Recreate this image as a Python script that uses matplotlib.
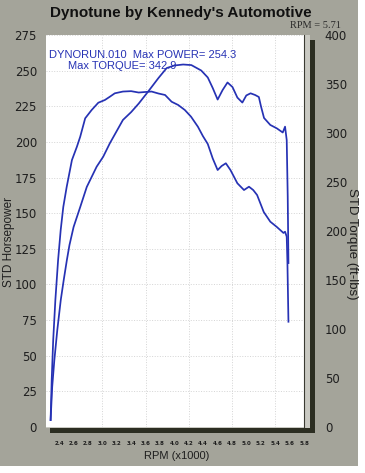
import matplotlib.pyplot as plt
from matplotlib.patches import Rectangle

# values
rpm_power = [2.282, 2.304, 2.334, 2.375, 2.423, 2.464, 2.508, 2.544, 2.601, 2.693,
             2.784, 2.921, 3.012, 3.104, 3.195, 3.286, 3.400, 3.505, 3.642, 3.779,
             3.893, 3.999, 4.122, 4.236, 4.373, 4.464, 4.533, 4.601, 4.670, 4.738,
             4.807, 4.875, 4.944, 4.999, 5.058, 5.122, 5.173, 5.204, 5.245, 5.332,
             5.423, 5.505, 5.537, 5.560, 5.574, 5.584]
power_hp = [4.9, 28.1, 47.0, 68.1, 89.1, 103.1, 117.2, 127.7, 140.3, 154.3,
            168.4, 182.6, 189.6, 199.0, 207.2, 215.4, 220.9, 226.9, 235.7, 244.8,
            251.8, 253.6, 254.3, 253.9, 250.1, 245.2, 237.8, 229.7, 236.4, 241.7,
            238.5, 231.1, 227.6, 232.6, 234.1, 232.9, 231.5, 224.7, 216.8, 211.9,
            209.5, 206.6, 210.7, 201.3, 161.6, 115.0]

rpm_torque = [2.282, 2.297, 2.318, 2.348, 2.386, 2.422, 2.458, 2.505, 2.578, 2.647,
              2.693, 2.762, 2.852, 2.944, 3.036, 3.104, 3.173, 3.286, 3.400, 3.505,
              3.588, 3.684, 3.779, 3.871, 3.962, 4.053, 4.145, 4.232, 4.327, 4.396,
              4.464, 4.533, 4.601, 4.656, 4.715, 4.779, 4.875, 4.967, 5.036, 5.095,
              5.149, 5.241, 5.332, 5.423, 5.515, 5.537, 5.560, 5.570, 5.584]
torque_ftlb = [7.1, 48.0, 88.8, 129.6, 170.4, 201.0, 224.5, 244.9, 272.4, 286.0,
               296.2, 315.0, 323.5, 330.9, 333.7, 337.0, 340.5, 342.3, 342.7, 341.3,
               341.8, 342.3, 340.3, 338.8, 331.9, 328.6, 323.5, 316.6, 306.4, 296.9,
               288.8, 274.0, 262.2, 266.3, 269.1, 262.2, 248.7, 241.8, 245.2, 241.8,
               236.7, 219.4, 209.5, 204.1, 198.0, 199.3, 194.2, 167.3, 107.4]

hp_ticks = [0, 25, 50, 75, 100, 125, 150, 175, 200, 225, 250, 275]
tq_ticks = [0, 50, 100, 150, 200, 250, 300, 350, 400]
rpm_ticks = [2.4, 2.6, 2.8, 3.0, 3.2, 3.4, 3.6, 3.8, 4.0, 4.2,
             4.4, 4.6, 4.8, 5.0, 5.2, 5.4, 5.6, 5.8]
rpm_labels = ["2.4", "2.6", "2.8", "3.0", "3.2", "3.4", "3.6", "3.8", "4.0", "4.2",
              "4.4", "4.6", "4.8", "5.0", "5.2", "5.4", "5.6", "5.8"]
rpm_grid = [3.0, 3.6, 4.2, 4.8, 5.4]

W, H = 365, 473


def fx(x):
    return x / W


def fy(y):
    return 1 - y / H


blue = '#2632b4'
ink = '#1e1e1e'

fig = plt.figure(figsize=(W / 100, H / 100), dpi=100, facecolor='white')

# scanned grey page, the plot's drop shadow and frame (behind the axes)
fig.patches.append(Rectangle((0, fy(466)), fx(358), 466 / H, transform=fig.transFigure,
                             facecolor='#a4a49a', edgecolor='none', zorder=-3))
fig.patches.append(Rectangle((fx(50), fy(433)), fx(315 - 50), (433 - 40) / H,
                             transform=fig.transFigure, facecolor='#2c2e22',
                             edgecolor='none', zorder=-2))
fig.patches.append(Rectangle((fx(46), fy(428)), fx(310 - 46), (428 - 35) / H,
                             transform=fig.transFigure, facecolor='#c9c9c2',
                             edgecolor='none', zorder=-1))

ax = fig.add_axes([fx(46), fy(427), fx(304 - 46), (427 - 35) / H])
ax.set_facecolor('white')
ax.set_xlim(2.218, 5.752)
ax.set_ylim(0, 275)
ax.set_yticks(hp_ticks)
ax.set_xticks(rpm_ticks)
ax.set_xticklabels(rpm_labels)
ax.tick_params(axis='y', length=0, pad=6.5, labelsize=8.5, labelcolor=ink)
ax.tick_params(axis='x', length=0, pad=10, labelsize=4, labelcolor=ink)
for lab in ax.get_xticklabels():
    lab.set_fontweight('bold')
ax.grid(axis='y', color='#d4d4d4', linestyle=':', linewidth=0.7)
ax.vlines(rpm_grid, 0, 275, colors='#d4d4d4', linestyles=':', linewidth=0.7)
for s in ['left', 'top', 'bottom']:
    ax.spines[s].set_visible(False)
ax.spines['right'].set_color('#3a3a32')
ax.spines['right'].set_linewidth(0.8)

ax.plot(rpm_power, power_hp, color=blue, linewidth=1.25)

ax2 = ax.twinx()
ax2.set_ylim(0, 400)
ax2.set_yticks(tq_ticks)
ax2.tick_params(axis='y', length=0, pad=15, labelsize=8.5, labelcolor=ink)
for s in ['left', 'top', 'bottom', 'right']:
    ax2.spines[s].set_visible(False)
ax2.plot(rpm_torque, torque_ftlb, color=blue, linewidth=1.25)

fig.text(fx(181), fy(13), "Dynotune by Kennedy's Automotive", ha='center', va='center',
         fontsize=11, fontweight='bold', color='#111111', family='Liberation Sans')
fig.text(fx(290), fy(26), "RPM = 5.71", ha='left', va='center', fontsize=7.5,
         color='#2a2a2a', family='Liberation Serif')
fig.text(fx(49), fy(55), "DYNORUN.010  Max POWER= 254.3", ha='left', va='center',
         fontsize=8, color=blue, family='Liberation Sans')
fig.text(fx(68), fy(66), "Max TORQUE= 342.9", ha='left', va='center',
         fontsize=8, color=blue, family='Liberation Sans')
fig.text(fx(9), fy(242), "STD Horsepower", rotation=90, ha='center', va='center',
         fontsize=8.5, color=ink, family='Liberation Sans')
fig.text(fx(352), fy(244), "STD Torque (ft-lbs)", rotation=270, ha='center', va='center',
         fontsize=9.5, color=ink, family='Liberation Sans')
fig.text(fx(177), fy(456), "RPM (x1000)", ha='center', va='center',
         fontsize=8, color=ink, family='Liberation Sans')

fig.savefig('out.png', dpi=100, facecolor=fig.get_facecolor())
